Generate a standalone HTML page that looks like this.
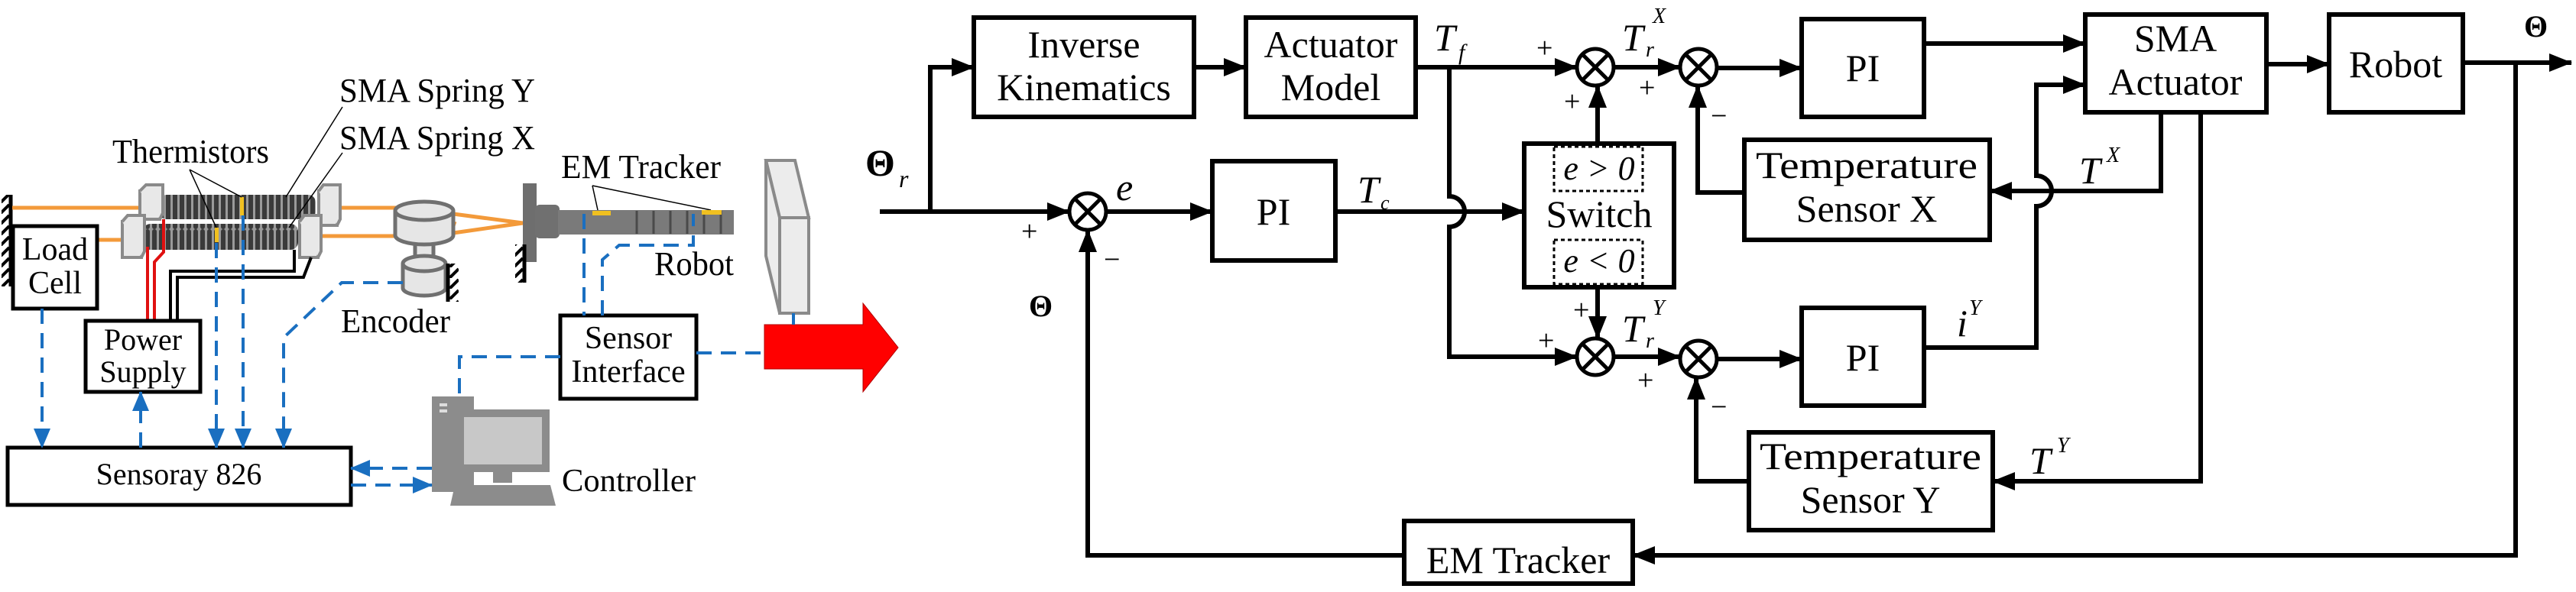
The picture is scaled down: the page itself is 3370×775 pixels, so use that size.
<!DOCTYPE html>
<html><head><meta charset="utf-8"><style>
html,body{margin:0;padding:0;background:#fff;}
svg{display:block;}
svg text{font-family:"Liberation Serif","DejaVu Serif",serif;}
</style></head><body>
<svg width="3370" height="775" viewBox="0 0 3370 775" xmlns="http://www.w3.org/2000/svg" font-family="Liberation Serif, serif">
<defs>
<marker id="a" markerWidth="30" markerHeight="24" refX="29" refY="12" orient="auto" markerUnits="userSpaceOnUse"><path d="M0,0 L30,12 L0,24 z" fill="#000"/></marker>
<marker id="b" markerWidth="26" markerHeight="22" refX="25" refY="11" orient="auto" markerUnits="userSpaceOnUse"><path d="M0,0 L26,11 L0,22 z" fill="#1a6fc0"/></marker>
<pattern id="coil" width="9" height="60" patternUnits="userSpaceOnUse"><rect width="9" height="60" fill="#9a9a9a"/><rect x="1" width="6" height="60" rx="3" fill="#3a3a3a"/></pattern>
<pattern id="hatch" width="12" height="14" patternUnits="userSpaceOnUse"><path d="M0,14 L12,2" stroke="#000" stroke-width="4"/></pattern>
</defs>
<g font-family="Liberation Serif, serif">
<!-- ============ LEFT PANEL ============ -->
<line x1="14" y1="255" x2="14" y2="375" stroke="#000" stroke-width="5"/>
<rect x="2" y="255" width="12" height="120" fill="url(#hatch)"/>
<g stroke="#f39a3a" stroke-width="5" fill="none">
<line x1="16" y1="272" x2="184" y2="272"/>
<line x1="127" y1="314" x2="160" y2="314"/>
<line x1="445" y1="272" x2="520" y2="272"/>
<line x1="420" y1="309" x2="585" y2="309"/>
<path d="M585,309 Q592,300 595,290"/>
<line x1="593" y1="280" x2="684" y2="292"/>
<line x1="593" y1="305" x2="684" y2="292"/>
</g>
<rect x="208" y="255" width="205" height="32" rx="10" fill="url(#coil)"/>
<rect x="187" y="293" width="203" height="34" rx="10" fill="url(#coil)"/>
<rect x="314" y="258" width="5" height="24" fill="#f0c020"/>
<rect x="281" y="298" width="5" height="19" fill="#f0c020"/>
<g fill="#e8e8e8" stroke="#8a8a8a" stroke-width="4">
<rect x="183" y="250" width="26" height="37"/><path d="M183,250 l8,-8 h22 v37 l-4,8"/>
<rect x="417" y="250" width="24" height="45"/><path d="M417,250 l6,-8 h22 v45 l-4,8"/>
<rect x="160" y="290" width="25" height="47"/><path d="M160,290 l7,-8 h22 v47 l-4,8"/>
<rect x="392" y="290" width="24" height="47"/><path d="M392,290 l6,-8 h22 v47 l-4,8"/>
</g>
<g fill="none" stroke-width="4">
<path d="M193,323 V420" stroke="#e01010"/>
<path d="M214,287 V330 L202,343 V420" stroke="#e01010"/>
<path d="M385,327 V355 H223 V420" stroke="#000"/>
<path d="M407,337 L397,363 H232 V420" stroke="#000"/>
</g>
<g stroke="#000" stroke-width="1.5">
<line x1="248" y1="222" x2="316" y2="258"/><line x1="248" y1="222" x2="283" y2="298"/>
<line x1="448" y1="140" x2="374" y2="258"/><line x1="448" y1="200" x2="378" y2="298"/>
<line x1="775" y1="243" x2="782" y2="275"/><line x1="775" y1="243" x2="930" y2="275"/>
</g>
<text x="147" y="213" font-size="44" textLength="205" lengthAdjust="spacingAndGlyphs">Thermistors</text>
<text x="444" y="133" font-size="44" textLength="256" lengthAdjust="spacingAndGlyphs">SMA Spring Y</text>
<text x="444" y="195" font-size="44" textLength="256" lengthAdjust="spacingAndGlyphs">SMA Spring X</text>
<g fill="#e6e6e6" stroke="#707070" stroke-width="5">
<rect x="543" y="312" width="24" height="28"/>
<path d="M527,345 v32 a28,10 0 0 0 56,0 v-32"/><ellipse cx="555" cy="345" rx="28" ry="10"/>
<path d="M517,276 v32 a38,12 0 0 0 76,0 v-32"/><ellipse cx="555" cy="276" rx="38" ry="12"/>
</g>
<line x1="586" y1="345" x2="586" y2="395" stroke="#000" stroke-width="5"/>
<rect x="588" y="345" width="12" height="50" fill="url(#hatch)"/>
<text x="446" y="435" font-size="44" textLength="143" lengthAdjust="spacingAndGlyphs">Encoder</text>
<rect x="684" y="240" width="18" height="103" fill="#6e6e6e"/>
<rect x="700" y="268" width="32" height="44" rx="6" fill="#707070"/>
<rect x="730" y="275" width="230" height="32" fill="#7a7a7a"/>
<g stroke="#4a4a4a" stroke-width="3">
<line x1="833" y1="276" x2="833" y2="306"/><line x1="855" y1="276" x2="855" y2="306"/><line x1="877" y1="276" x2="877" y2="306"/><line x1="899" y1="276" x2="899" y2="306"/><line x1="921" y1="276" x2="921" y2="306"/><line x1="943" y1="276" x2="943" y2="306"/>
</g>
<rect x="775" y="276" width="24" height="6" fill="#f0c020"/>
<rect x="918" y="275" width="26" height="6" fill="#f0c020"/>
<line x1="686" y1="320" x2="686" y2="370" stroke="#000" stroke-width="5"/>
<rect x="674" y="320" width="12" height="50" fill="url(#hatch)"/>
<text x="734" y="233" font-size="44" textLength="209" lengthAdjust="spacingAndGlyphs">EM Tracker</text>
<text x="856" y="360" font-size="44" textLength="104" lengthAdjust="spacingAndGlyphs">Robot</text>
<g fill="#ececec" stroke="#8a8a8a" stroke-width="4">
<path d="M1002,210 L1040,210 L1058,285 L1020,285 Z"/>
<path d="M1002,210 L1020,285 L1020,410 L1002,335 Z"/>
<rect x="1020" y="285" width="38" height="125"/>
</g>
<path d="M1000,425 H1129 V397 L1175,455 L1129,513 V483 H1000 Z" fill="#ff0000" stroke="#b00000" stroke-width="1"/>
<g fill="#fff" stroke="#000" stroke-width="5">
<rect x="17" y="296" width="110" height="108"/>
<rect x="112" y="420" width="150" height="93"/>
<rect x="10" y="586" width="449" height="75"/>
<rect x="733" y="413" width="178" height="109"/>
</g>
<text x="72" y="340" font-size="42" text-anchor="middle">Load</text>
<text x="72" y="384" font-size="42" text-anchor="middle">Cell</text>
<text x="187" y="458" font-size="40" text-anchor="middle">Power</text>
<text x="187" y="500" font-size="40" text-anchor="middle">Supply</text>
<text x="234" y="634" font-size="40" text-anchor="middle">Sensoray 826</text>
<text x="822" y="456" font-size="42" text-anchor="middle">Sensor</text>
<text x="822" y="500" font-size="42" text-anchor="middle">Interface</text>
<g fill="#8c8c8c">
<rect x="565" y="519" width="55" height="125"/>
<rect x="597" y="536" width="122" height="82"/>
<rect x="645" y="618" width="25" height="14"/>
<path d="M595,635 H720 L727,662 H589 Z"/>
</g>
<rect x="607" y="546" width="102" height="62" fill="#c8c8c8"/>
<rect x="575" y="528" width="10" height="4" fill="#ddd"/><rect x="575" y="536" width="10" height="4" fill="#ddd"/>
<text x="735" y="643" font-size="42" textLength="175" lengthAdjust="spacingAndGlyphs">Controller</text>
<g fill="none" stroke="#1a6fc0" stroke-width="4" stroke-dasharray="20,12">
<path d="M55,404 V586" marker-end="url(#b)"/>
<path d="M184,586 V513" marker-end="url(#b)"/>
<path d="M283,318 V586" marker-end="url(#b)"/>
<path d="M318,282 V586" marker-end="url(#b)"/>
<path d="M527,370 H447 L371,442 V586" marker-end="url(#b)"/>
<path d="M565,613 H459" marker-end="url(#b)"/>
<path d="M459,635 H565" marker-end="url(#b)"/>
<path d="M733,467 H601 V519"/>
<path d="M764,280 V413"/>
<path d="M788,413 V340 L810,321 H907 V280"/>
<path d="M911,462 H1000"/>
<path d="M1038,410 V425"/>
</g>

<!-- ============ RIGHT PANEL ============ -->
<g fill="#fff" stroke="#000" stroke-width="6">
<rect x="1274" y="23" width="288" height="130"/>
<rect x="1630" y="23" width="222" height="130"/>
<rect x="1586" y="211" width="161" height="130"/>
<rect x="1994" y="188" width="196" height="188"/>
<rect x="2357" y="25" width="160" height="128"/>
<rect x="2357" y="403" width="160" height="128"/>
<rect x="2282" y="183" width="321" height="131"/>
<rect x="2288" y="566" width="319" height="128"/>
<rect x="2728" y="19" width="237" height="128"/>
<rect x="3047" y="19" width="175" height="128"/>
<rect x="1837" y="682" width="299" height="82"/>
</g>
<g fill="none" stroke="#000" stroke-width="3" stroke-dasharray="5,4">
<rect x="2033" y="192" width="116" height="58"/>
<rect x="2033" y="314" width="116" height="58"/>
</g>
<g font-size="50" text-anchor="middle">
<text x="1418" y="75">Inverse</text>
<text x="1418" y="131">Kinematics</text>
<text x="1741" y="75">Actuator</text>
<text x="1741" y="131">Model</text>
<text x="1666" y="294">PI</text>
<text x="2092" y="297">Switch</text>
<text x="2437" y="106">PI</text>
<text x="2437" y="485">PI</text>
<text x="2442" y="233" textLength="290" lengthAdjust="spacingAndGlyphs">Temperature</text>
<text x="2442" y="290">Sensor X</text>
<text x="2447" y="614" textLength="290" lengthAdjust="spacingAndGlyphs">Temperature</text>
<text x="2447" y="671">Sensor Y</text>
<text x="2846" y="67">SMA</text>
<text x="2846" y="124">Actuator</text>
<text x="3134" y="101">Robot</text>
<text x="1986" y="750">EM Tracker</text>
</g>
<g font-size="44" font-style="italic" text-anchor="middle">
<text x="2092" y="235">e &gt; 0</text>
<text x="2092" y="356">e &lt; 0</text>
</g>
<g fill="#fff" stroke="#000" stroke-width="5">
<circle cx="1423" cy="277" r="24"/><circle cx="2087" cy="88" r="24"/><circle cx="2222" cy="88" r="24"/>
<circle cx="2087" cy="467" r="24"/><circle cx="2222" cy="470" r="24"/>
</g>
<g stroke="#000" stroke-width="5">
<path d="M1406,260 L1440,294 M1440,260 L1406,294"/>
<path d="M2070,71 L2104,105 M2104,71 L2070,105"/>
<path d="M2205,71 L2239,105 M2239,71 L2205,105"/>
<path d="M2070,450 L2104,484 M2104,450 L2070,484"/>
<path d="M2205,453 L2239,487 M2239,453 L2205,487"/>
</g>
<g fill="none" stroke="#000" stroke-width="6">
<path d="M1151,277 H1399" marker-end="url(#a)"/>
<path d="M1217,277 V88 H1274" marker-end="url(#a)"/>
<path d="M1562,88 H1630" marker-end="url(#a)"/>
<path d="M1852,88 H2063" marker-end="url(#a)"/>
<path d="M1896,88 V257 A20,20 0 0 1 1896,297 V467 H2063" marker-end="url(#a)"/>
<path d="M1447,277 H1586" marker-end="url(#a)"/>
<path d="M1747,277 H1994" marker-end="url(#a)"/>
<path d="M2090,188 V112" marker-end="url(#a)"/>
<path d="M2090,376 V443" marker-end="url(#a)"/>
<path d="M2111,88 H2198" marker-end="url(#a)"/>
<path d="M2111,467 H2198" marker-end="url(#a)"/>
<path d="M2246,89 H2357" marker-end="url(#a)"/>
<path d="M2246,470 H2357" marker-end="url(#a)"/>
<path d="M2517,57 H2728" marker-end="url(#a)"/>
<path d="M2517,455 H2664 V270 A20,20 0 0 0 2664,230 V111 H2728" marker-end="url(#a)"/>
<path d="M2827,147 V250 H2603" marker-end="url(#a)"/>
<path d="M2879,147 V630 H2607" marker-end="url(#a)"/>
<path d="M2282,252 H2221 V112" marker-end="url(#a)"/>
<path d="M2288,630 H2219 V494" marker-end="url(#a)"/>
<path d="M2965,84 H3047" marker-end="url(#a)"/>
<path d="M3222,82 H3364" marker-end="url(#a)"/>
<path d="M3291,82 V727 H2136" marker-end="url(#a)"/>
<path d="M1837,727 H1423 V301" marker-end="url(#a)"/>
</g>
<g font-size="50">
<text x="1132" y="230" font-weight="bold">Θ</text>
<text x="1176" y="245" font-size="32" font-style="italic">r</text>
<text x="1346" y="414" font-size="40" font-weight="bold">Θ</text>
<text x="3302" y="48" font-size="40" font-weight="bold">Θ</text>
<text x="1460" y="262" font-style="italic">e</text>
<text x="1876" y="66" font-style="italic">T</text><text x="1908" y="78" font-size="30" font-style="italic">f</text>
<text x="1776" y="265" font-style="italic">T</text><text x="1806" y="274" font-size="26" font-style="italic">c</text>
<text x="2122" y="66" font-style="italic">T</text><text x="2153" y="74" font-size="28" font-style="italic">r</text><text x="2162" y="30" font-size="28" font-style="italic">X</text>
<text x="2122" y="447" font-style="italic">T</text><text x="2153" y="455" font-size="28" font-style="italic">r</text><text x="2162" y="412" font-size="28" font-style="italic">Y</text>
<text x="2720" y="240" font-style="italic">T</text><text x="2756" y="212" font-size="28" font-style="italic">X</text>
<text x="2655" y="620" font-style="italic">T</text><text x="2691" y="592" font-size="28" font-style="italic">Y</text>
<text x="2560" y="440" font-style="italic">i</text><text x="2576" y="412" font-size="28" font-style="italic">Y</text>
</g>
<g font-size="38">
<text x="1336" y="315">+</text>
<text x="2010" y="75">+</text><text x="2046" y="145">+</text><text x="2144" y="127">+</text>
<text x="2058" y="418">+</text><text x="2012" y="458">+</text><text x="2142" y="510">+</text>
<text x="1444" y="352">−</text><text x="2238" y="164">−</text><text x="2238" y="545">−</text>
</g>
</g>
</svg>
</body></html>
